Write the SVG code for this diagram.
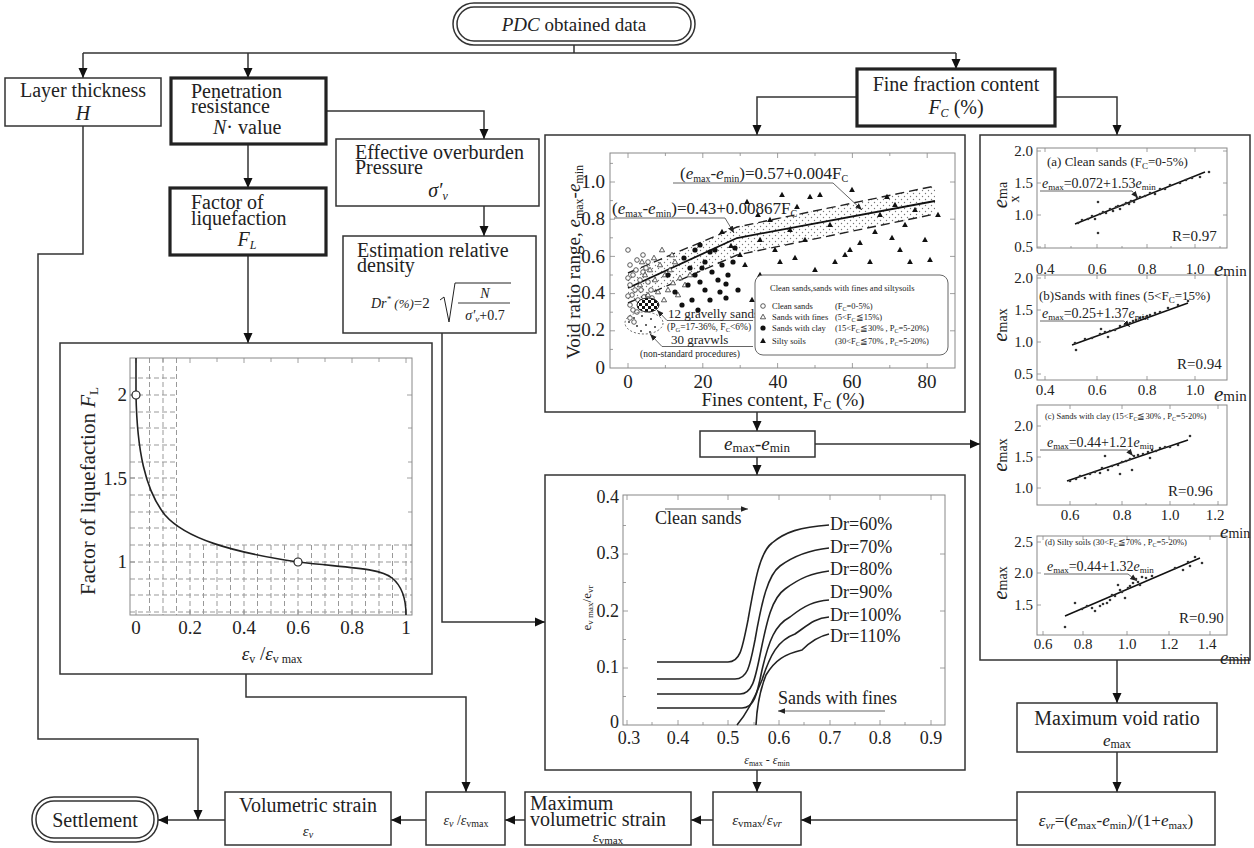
<svg xmlns="http://www.w3.org/2000/svg" width="1254" height="848" viewBox="0 0 1254 848">
<defs>
<style>
.box{fill:#fff;stroke:#333;stroke-width:1.5}
.thick{fill:#fff;stroke:#222;stroke-width:3.2}
.con{fill:none;stroke:#333;stroke-width:1.5}
.t{font-family:"Liberation Serif","Times New Roman",serif;fill:#222}
.frame{fill:none;stroke:#888;stroke-width:1}
.tick{fill:none;stroke:#888;stroke-width:0.8}
.grid{stroke:#999;stroke-width:1;stroke-dasharray:5,3;fill:none}
.curve{fill:none;stroke:#222;stroke-width:1.6}
.lead{fill:none;stroke:#555;stroke-width:0.9}
.dash{fill:none;stroke:#222;stroke-width:1.4;stroke-dasharray:9,5}
</style>
<marker id="ah" viewBox="0 0 10 10" refX="10" refY="5" markerWidth="10" markerHeight="10" markerUnits="userSpaceOnUse" orient="auto"><path d="M0,0.5 L10,5 L0,9.5 z" fill="#111"/></marker>
<marker id="as" viewBox="0 0 10 10" refX="10" refY="5" markerWidth="7" markerHeight="7" markerUnits="userSpaceOnUse" orient="auto"><path d="M0,1 L10,5 L0,9 z" fill="#222"/></marker>
<pattern id="dots" width="6" height="6" patternUnits="userSpaceOnUse"><rect width="6" height="6" fill="#fff"/><circle cx="1.5" cy="1.5" r="0.7" fill="#777"/><circle cx="4.5" cy="4.5" r="0.7" fill="#777"/></pattern>
<pattern id="checker" width="6" height="6" patternUnits="userSpaceOnUse"><rect width="6" height="6" fill="#fff"/><rect width="3" height="3" fill="#111"/><rect x="3" y="3" width="3" height="3" fill="#111"/></pattern>
<circle id="oc" r="2.3" fill="#fff" stroke="#333" stroke-width="0.8"/>
<path id="ot" d="M0,-2.8L2.6,1.8L-2.6,1.8Z" fill="#fff" stroke="#333" stroke-width="0.8"/>
<circle id="fc" r="2.6" fill="#111"/>
<path id="ft" d="M0,-3.2L2.9,2L-2.9,2Z" fill="#111"/>
<circle id="sd" r="1.3" fill="#333"/>
</defs>
<rect width="1254" height="848" fill="#fff"/>

<g id="connectors" class="con">
<path d="M574,45 V53"/>
<path d="M83,53 H956"/>
<path d="M83,53 V78" marker-end="url(#ah)"/>
<path d="M248,53 V78" marker-end="url(#ah)"/>
<path d="M956,53 V69" marker-end="url(#ah)"/>
<path d="M326,111 H484 V139" marker-end="url(#ah)"/>
<path d="M484,206 V236" marker-end="url(#ah)"/>
<path d="M248,144 V188" marker-end="url(#ah)"/>
<path d="M248,255 V343" marker-end="url(#ah)"/>
<path d="M83,126 V254 H38 V739 H198 V820" marker-end="url(#ah)"/>
<path d="M442,333 V622 H545" marker-end="url(#ah)"/>
<path d="M246,674 V697 H466 V792" marker-end="url(#ah)"/>
<path d="M857,97 H757 V135" marker-end="url(#ah)"/>
<path d="M1055,97 H1117 V135" marker-end="url(#ah)"/>
<path d="M757,412 V431" marker-end="url(#ah)"/>
<path d="M815,444 H980" marker-end="url(#ah)"/>
<path d="M757,457 V475" marker-end="url(#ah)"/>
<path d="M757,770 V792" marker-end="url(#ah)"/>
<path d="M1117,660 V703" marker-end="url(#ah)"/>
<path d="M1117,752 V792" marker-end="url(#ah)"/>
<path d="M1017,820 H801" marker-end="url(#ah)"/>
<path d="M713,820 H691" marker-end="url(#ah)"/>
<path d="M525,820 H505" marker-end="url(#ah)"/>
<path d="M426,820 H391" marker-end="url(#ah)"/>
<path d="M225,820 H158" marker-end="url(#ah)"/>
</g>

<g id="pdc">
<rect x="453" y="3" width="242" height="42" rx="21" class="box"/>
<rect x="457" y="7" width="234" height="34" rx="17" class="box"/>
<text x="574" y="31" text-anchor="middle" class="t" font-size="19"><tspan font-style="italic">PDC</tspan> obtained data</text>
</g>

<g id="layer">
<rect x="5" y="78" width="156" height="48" class="box"/>
<text x="83" y="97" text-anchor="middle" class="t" font-size="20">Layer thickness</text>
<text x="83" y="120" text-anchor="middle" class="t" font-size="20" font-style="italic">H</text>
</g>

<g id="penetration">
<rect x="171" y="78" width="155" height="66" class="thick"/>
<text x="191" y="98" class="t" font-size="20">Penetration</text>
<text x="191" y="113" class="t" font-size="20">resistance</text>
<text x="213" y="134" class="t" font-size="20"><tspan font-style="italic">N</tspan>· value</text>
</g>

<g id="fine">
<rect x="857" y="69" width="198" height="57" class="thick"/>
<text x="956" y="91" text-anchor="middle" class="t" font-size="20">Fine fraction content</text>
<text x="956" y="114" text-anchor="middle" class="t" font-size="20"><tspan font-style="italic">F</tspan><tspan font-style="italic" font-size="12" dy="3">C</tspan><tspan dy="-3"> (%)</tspan></text>
</g>

<g id="effective">
<rect x="336" y="139" width="203" height="67" class="box"/>
<text x="355" y="159" class="t" font-size="20">Effective overburden</text>
<text x="355" y="174" class="t" font-size="20">Pressure</text>
<text x="438" y="197" text-anchor="middle" class="t" font-size="20" font-style="italic">σ′<tspan font-size="12" dy="3">v</tspan></text>
</g>

<g id="estimation">
<rect x="343" y="236" width="193" height="97" class="box"/>
<text x="357" y="257" class="t" font-size="20">Estimation relative</text>
<text x="357" y="272" class="t" font-size="20">density</text>
<text x="371" y="308" class="t" font-size="14" font-style="italic">Dr<tspan font-size="9" dy="-6">*</tspan><tspan font-size="13" dy="6"> (%)</tspan><tspan font-style="normal" font-size="15">=2</tspan></text>
<path d="M440,300 L444,297 L449,322 L455,283 L511,283" fill="none" stroke="#222" stroke-width="1"/>
<path d="M458,303 H510" stroke="#222" stroke-width="0.9"/>
<text x="485" y="298" text-anchor="middle" class="t" font-size="14" font-style="italic">N</text>
<text x="485" y="320" text-anchor="middle" class="t" font-size="14"><tspan font-style="italic">σ′</tspan><tspan font-style="italic" font-size="9" dy="2">v</tspan><tspan dy="-2">+0.7</tspan></text>
</g>

<g id="factor">
<rect x="170" y="188" width="156" height="67" class="thick"/>
<text x="191" y="209" class="t" font-size="20">Factor of</text>
<text x="191" y="225" class="t" font-size="20">liquefaction</text>
<text x="247" y="246" text-anchor="middle" class="t" font-size="20" font-style="italic">F<tspan font-size="12" dy="3">L</tspan></text>
</g>

<g id="fl-chart">
<rect x="60" y="343" width="372" height="331" class="box"/>
<g class="grid">
<path d="M149.5,358V615M163,358V615M176.5,358V615"/>
<path d="M130,378H176.5M130,395H176.5M130,412H176.5M130,428H176.5M130,445H176.5M130,462H176.5M130,478H176.5M130,495H176.5M130,512H176.5M130,528H176.5"/>
<path d="M130,545H412M130,562H412M130,579H412M130,595H412M130,612H412"/>
<path d="M190,545V615M203.5,545V615M217,545V615M230.5,545V615M244,545V615M257.5,545V615M271,545V615M284.5,545V615M298,545V615M311.5,545V615M325,545V615M338.5,545V615M352,545V615M365.5,545V615M379,545V615M392.5,545V615M406,545V615"/>
</g>
<rect x="130" y="358" width="282" height="257" class="frame"/>
<path class="tick" d="M136,358v5M163,358v4M190,358v5M217,358v4M244,358v5M271,358v4M298,358v5M325,358v4M352,358v5M379,358v4M406,358v5M136,615v-5M190,615v-5M244,615v-5M298,615v-5M352,615v-5M406,615v-5M412,395h-5M412,428h-4M412,462h-4M412,478h-5M412,512h-4M412,545h-4M130,395h5M130,478h5M130,562h5"/>
<path class="curve" d="M136,358 L136,395 C137,450 145,490 165,515 C185,538 230,552 298,562 C350,568 380,568 392,578 C402,586 406,600 406,615"/>
<circle cx="136" cy="395" r="4" fill="#fff" stroke="#222" stroke-width="1.2"/>
<circle cx="298" cy="562" r="4" fill="#fff" stroke="#222" stroke-width="1.2"/>
<g class="t" font-size="19" text-anchor="end">
<text x="127" y="401">2</text>
<text x="127" y="485">1.5</text>
<text x="127" y="568">1</text>
</g>
<g class="t" font-size="19" text-anchor="middle">
<text x="136" y="634">0</text>
<text x="190" y="634">0.2</text>
<text x="244" y="634">0.4</text>
<text x="298" y="634">0.6</text>
<text x="352" y="634">0.8</text>
<text x="406" y="634">1</text>
</g>
<text x="272" y="660" text-anchor="middle" class="t" font-size="19"><tspan font-style="italic">ε</tspan><tspan font-size="12" dy="3">v</tspan><tspan dy="-3"> /</tspan><tspan font-style="italic">ε</tspan><tspan font-size="12" dy="3">v max</tspan></text>
<text transform="translate(95,491) rotate(-90)" text-anchor="middle" class="t" font-size="21">Factor of liquefaction  <tspan font-style="italic">F</tspan><tspan font-size="13" dy="3">L</tspan></text>
</g>

<g id="void-range-chart">
<rect x="545" y="135" width="420" height="277" class="box"/>
<rect x="610" y="153" width="345" height="215" class="frame"/>
<path class="tick" d="M628,368v-5M665.4,368v-3M702.8,368v-5M740.2,368v-3M777.6,368v-5M815,368v-3M852.4,368v-5M889.8,368v-3M927.2,368v-5M628,153v5M702.8,153v5M777.6,153v5M852.4,153v5M927.2,153v5M665.4,153v3M740.2,153v3M815,153v3M889.8,153v3M610,349.4h3M610,330.8h5M610,312.2h3M610,293.6h5M610,275h3M610,256.4h5M610,237.8h3M610,219.2h5M610,200.6h3M610,182h5M610,163.4h3M955,330.8h-5M955,293.6h-5M955,256.4h-5M955,219.2h-5M955,182h-5"/>
<polygon points="628,273 737,227 935,186 935,214 737,255 628,303" fill="url(#dots)"/>
<polyline class="dash" points="628,273 737,227 935,186"/>
<polyline class="dash" points="628,303 737,255 935,214"/>
<polyline fill="none" stroke="#111" stroke-width="1.8" points="628,288 737,238 935,201"/>
<g>
<use href="#oc" x="630" y="265"/><use href="#oc" x="633" y="275"/><use href="#oc" x="636" y="270"/><use href="#oc" x="640" y="280"/><use href="#oc" x="643" y="272"/><use href="#oc" x="646" y="268"/><use href="#oc" x="630" y="285"/><use href="#oc" x="632" y="295"/><use href="#oc" x="635" y="290"/><use href="#oc" x="638" y="300"/><use href="#oc" x="641" y="290"/><use href="#oc" x="644" y="297"/><use href="#oc" x="630" y="305"/><use href="#oc" x="633" y="310"/><use href="#oc" x="637" y="312"/><use href="#oc" x="640" y="307"/><use href="#oc" x="630" y="318"/><use href="#oc" x="634" y="322"/><use href="#oc" x="628" y="250"/><use href="#oc" x="648" y="282"/><use href="#oc" x="651" y="290"/><use href="#oc" x="652" y="298"/><use href="#oc" x="637" y="260"/><use href="#oc" x="643" y="255"/><use href="#oc" x="648" y="262"/><use href="#oc" x="628" y="278"/><use href="#oc" x="628" y="296"/>
<use href="#ot" x="640" y="285"/><use href="#ot" x="645" y="275"/><use href="#ot" x="650" y="270"/><use href="#ot" x="655" y="280"/><use href="#ot" x="660" y="265"/><use href="#ot" x="665" y="275"/><use href="#ot" x="670" y="270"/><use href="#ot" x="675" y="262"/><use href="#ot" x="680" y="278"/><use href="#ot" x="648" y="295"/><use href="#ot" x="658" y="292"/><use href="#ot" x="668" y="290"/><use href="#ot" x="678" y="295"/><use href="#ot" x="662" y="250"/><use href="#ot" x="672" y="255"/><use href="#ot" x="654" y="258"/><use href="#ot" x="642" y="262"/><use href="#ot" x="685" y="285"/><use href="#ot" x="690" y="275"/><use href="#ot" x="664" y="300"/><use href="#ot" x="673" y="283"/>
<use href="#fc" x="684" y="258"/><use href="#fc" x="690" y="268"/><use href="#fc" x="695" y="275"/><use href="#fc" x="700" y="282"/><use href="#fc" x="705" y="262"/><use href="#fc" x="712" y="272"/><use href="#fc" x="718" y="280"/><use href="#fc" x="722" y="265"/><use href="#fc" x="728" y="275"/><use href="#fc" x="733" y="262"/><use href="#fc" x="738" y="290"/><use href="#fc" x="705" y="290"/><use href="#fc" x="688" y="285"/><use href="#fc" x="695" y="250"/><use href="#fc" x="700" y="245"/><use href="#fc" x="715" y="250"/><use href="#fc" x="720" y="292"/><use href="#fc" x="710" y="300"/><use href="#fc" x="692" y="300"/><use href="#fc" x="726" y="298"/><use href="#fc" x="682" y="305"/><use href="#fc" x="698" y="310"/><use href="#fc" x="735" y="248"/><use href="#fc" x="668" y="275"/><use href="#fc" x="675" y="292"/><use href="#fc" x="710" y="252"/><use href="#fc" x="702" y="268"/><use href="#fc" x="726" y="284"/>
<use href="#ft" x="747" y="202"/><use href="#ft" x="758" y="215"/><use href="#ft" x="782" y="195"/><use href="#ft" x="797" y="207"/><use href="#ft" x="810" y="197"/><use href="#ft" x="820" y="195"/><use href="#ft" x="852" y="190"/><use href="#ft" x="887" y="197"/><use href="#ft" x="760" y="240"/><use href="#ft" x="775" y="250"/><use href="#ft" x="790" y="230"/><use href="#ft" x="805" y="240"/><use href="#ft" x="830" y="225"/><use href="#ft" x="845" y="255"/><use href="#ft" x="860" y="243"/><use href="#ft" x="875" y="232"/><use href="#ft" x="892" y="238"/><use href="#ft" x="905" y="225"/><use href="#ft" x="915" y="210"/><use href="#ft" x="925" y="240"/><use href="#ft" x="745" y="265"/><use href="#ft" x="760" y="275"/><use href="#ft" x="780" y="262"/><use href="#ft" x="795" y="258"/><use href="#ft" x="815" y="270"/><use href="#ft" x="835" y="262"/><use href="#ft" x="850" y="250"/><use href="#ft" x="870" y="262"/><use href="#ft" x="900" y="250"/><use href="#ft" x="910" y="262"/><use href="#ft" x="765" y="290"/><use href="#ft" x="752" y="300"/><use href="#ft" x="790" y="285"/><use href="#ft" x="810" y="280"/><use href="#ft" x="930" y="260"/><use href="#ft" x="740" y="255"/><use href="#ft" x="770" y="220"/><use href="#ft" x="880" y="215"/><use href="#ft" x="895" y="205"/><use href="#ft" x="938" y="215"/><use href="#ft" x="722" y="232"/><use href="#ft" x="731" y="246"/>
</g>
<ellipse cx="648" cy="305" rx="11" ry="7" fill="url(#checker)" stroke="#222" stroke-width="1"/>
<ellipse cx="644" cy="323" rx="19" ry="11" fill="none" stroke="#555" stroke-width="0.9" stroke-dasharray="2,2"/>
<g fill="#333"><circle cx="634" cy="318" r="1"/><circle cx="642" cy="316" r="1"/><circle cx="651" cy="319" r="1"/><circle cx="637" cy="326" r="1"/><circle cx="646" cy="325" r="1"/><circle cx="655" cy="327" r="1"/><circle cx="641" cy="331" r="1"/><circle cx="650" cy="332" r="1"/><circle cx="629" cy="322" r="1"/></g>
<path class="lead" d="M753,320.5 H667 L657,310" marker-end="url(#as)"/>
<path class="lead" d="M753,346.5 H662 L650,334" marker-end="url(#as)"/>
<text x="668" y="318" class="t" font-size="13">12 gravelly sands</text>
<text x="667" y="330" class="t" font-size="9.5">(P<tspan font-size="6.5" dy="2">G</tspan><tspan dy="-2">=17-36%, F</tspan><tspan font-size="6.5" dy="2">C</tspan><tspan dy="-2">&lt;6%)</tspan></text>
<text x="671" y="344" class="t" font-size="13">30 gravwls</text>
<text x="640" y="357" class="t" font-size="9.5">(non-standard procedures)</text>
<path class="lead" d="M673,183 H833 L862,210" marker-end="url(#as)"/>
<text x="680" y="179" class="t" font-size="17">(<tspan font-style="italic">e</tspan><tspan font-size="10" dy="3">max</tspan><tspan dy="-3">-</tspan><tspan font-style="italic">e</tspan><tspan font-size="10" dy="3">min</tspan><tspan dy="-3">)=0.57+0.004F</tspan><tspan font-size="10" dy="3">C</tspan></text>
<path class="lead" d="M614,218 H725 L734,233" marker-end="url(#as)"/>
<text x="612" y="214" class="t" font-size="17">(<tspan font-style="italic">e</tspan><tspan font-size="10" dy="3">max</tspan><tspan dy="-3">-</tspan><tspan font-style="italic">e</tspan><tspan font-size="10" dy="3">min</tspan><tspan dy="-3">)=0.43+0.00867F</tspan><tspan font-size="10" dy="3">C</tspan></text>
<rect x="755" y="275" width="193" height="80" rx="8" fill="#fff" stroke="#666" stroke-width="1"/>
<text x="770" y="291" class="t" font-size="8.5">Clean sands,sands with fines and siltysoils</text>
<use href="#oc" x="763" y="306"/><use href="#ot" x="763" y="317"/><use href="#fc" x="763" y="328"/><use href="#ft" x="763" y="341"/>
<g class="t" font-size="8.5">
<text x="772" y="309">Clean sands</text>
<text x="772" y="320">Sands with fines</text>
<text x="772" y="331">Sands with clay</text>
<text x="772" y="344">Silty soils</text>
<text x="835" y="309">(F<tspan font-size="6" dy="2">C</tspan><tspan dy="-2">=0-5%)</tspan></text>
<text x="835" y="320">(5&lt;F<tspan font-size="6" dy="2">C</tspan><tspan dy="-2">≦15%)</tspan></text>
<text x="835" y="331">(15&lt;F<tspan font-size="6" dy="2">C</tspan><tspan dy="-2">≦30% , P</tspan><tspan font-size="6" dy="2">C</tspan><tspan dy="-2">=5-20%)</tspan></text>
<text x="835" y="344">(30&lt;F<tspan font-size="6" dy="2">C</tspan><tspan dy="-2">≦70% , P</tspan><tspan font-size="6" dy="2">C</tspan><tspan dy="-2">=5-20%)</tspan></text>
</g>
<g class="t" font-size="19" text-anchor="end">
<text x="605" y="188">1.0</text>
<text x="605" y="225">0.8</text>
<text x="605" y="263">0.6</text>
<text x="605" y="299">0.4</text>
<text x="605" y="336">0.2</text>
<text x="605" y="374">0</text>
</g>
<g class="t" font-size="19" text-anchor="middle">
<text x="628" y="388">0</text>
<text x="703" y="388">20</text>
<text x="778" y="388">40</text>
<text x="852" y="388">60</text>
<text x="927" y="388">80</text>
</g>
<text x="783" y="406" text-anchor="middle" class="t" font-size="19">Fines content, F<tspan font-size="12" dy="3">C</tspan><tspan dy="-3"> (%)</tspan></text>
<text transform="translate(580,262) rotate(-90)" text-anchor="middle" class="t" font-size="19">Void ratio range, <tspan font-style="italic">e</tspan><tspan font-size="12" dy="3">max</tspan><tspan dy="-3">-</tspan><tspan font-style="italic">e</tspan><tspan font-size="12" dy="3">min</tspan></text>
</g>

<g id="emax-emin">
<rect x="700" y="431" width="115" height="26" class="box"/>
<text x="757" y="450" text-anchor="middle" class="t" font-size="19"><tspan font-style="italic">e</tspan><tspan font-size="13" dy="2">max</tspan><tspan dy="-2">-</tspan><tspan font-style="italic">e</tspan><tspan font-size="13" dy="2">min</tspan></text>
</g>

<g id="strain-ratio-chart">
<rect x="545" y="475" width="420" height="295" class="box"/>
<rect x="623" y="495" width="322" height="230" class="frame"/>
<path class="tick" d="M627,725v-5M652,725v-3M678,725v-5M703,725v-3M728,725v-5M754,725v-3M779,725v-5M804,725v-3M830,725v-5M855,725v-3M880,725v-5M905,725v-3M931,725v-5M627,495v5M678,495v5M728,495v5M779,495v5M830,495v5M880,495v5M931,495v5M623,696.5h3M623,668h5M623,639.5h3M623,611h5M623,582.5h3M623,554h5M623,525.5h3M945,668h-5M945,611h-5M945,554h-5"/>
<g class="curve">
<path d="M657,662 L728,662 C740,662 742,650 748,620 C755,580 760,552 772,543 C785,532 800,527 829,525"/>
<path d="M657,679 L735,679 C748,679 750,665 755,640 C762,600 768,575 780,566 C795,555 810,550 829,548"/>
<path d="M657,694 L740,694 C752,694 755,680 760,655 C767,620 772,598 785,589 C800,578 812,573 829,571"/>
<path d="M657,708 L742,708 C754,708 757,695 762,670 C769,640 775,625 790,617 C805,605 815,601 829,600"/>
<path d="M737,725 C748,712 756,695 762,680 C770,655 778,640 795,634 C808,625 815,618 829,617"/>
<path d="M756,725 C757,705 760,690 766,675 C775,660 785,654 802,650 C812,640 820,636 829,634"/>
</g>
<g class="t" font-size="18">
<text x="830" y="530">Dr=60%</text>
<text x="830" y="553">Dr=70%</text>
<text x="830" y="575">Dr=80%</text>
<text x="830" y="598">Dr=90%</text>
<text x="830" y="621">Dr=100%</text>
<text x="830" y="642">Dr=110%</text>
<text x="655" y="524">Clean sands</text>
<text x="778" y="704">Sands with fines</text>
</g>
<path class="lead" d="M665,509 H748" marker-end="url(#as)"/>
<path class="lead" d="M885,711 H778" marker-end="url(#as)"/>
<g class="t" font-size="18" text-anchor="end">
<text x="619" y="503">0.4</text>
<text x="619" y="559">0.3</text>
<text x="619" y="617">0.2</text>
<text x="619" y="673">0.1</text>
<text x="619" y="728">0</text>
</g>
<g class="t" font-size="18" text-anchor="middle">
<text x="629" y="744">0.3</text>
<text x="678" y="744">0.4</text>
<text x="728" y="744">0.5</text>
<text x="779" y="744">0.6</text>
<text x="830" y="744">0.7</text>
<text x="880" y="744">0.8</text>
<text x="931" y="744">0.9</text>
</g>
<text x="767" y="764" text-anchor="middle" class="t" font-size="12"><tspan font-style="italic">ε</tspan><tspan font-size="8" dy="2">max</tspan><tspan dy="-2"> - </tspan><tspan font-style="italic">ε</tspan><tspan font-size="8" dy="2">min</tspan></text>
<text transform="translate(591,608) rotate(-90)" text-anchor="middle" class="t" font-size="13">e<tspan font-size="9" dy="2">v max</tspan><tspan dy="-2">/e</tspan><tspan font-size="9" dy="2">vr</tspan></text>
</g>

<g id="emax-emin-plots">
<rect x="980" y="135" width="270" height="525" class="box"/>
<g class="frame">
<rect x="1037" y="148" width="190" height="100"/>
<rect x="1037" y="275" width="190" height="105"/>
<rect x="1037" y="405" width="190" height="100"/>
<rect x="1037" y="536" width="190" height="99"/>
</g>
<path class="tick" d="M1045,248v-4M1071,248v-2M1097,248v-4M1122,248v-2M1147,248v-4M1171,248v-2M1195,248v-4M1220,248v-2M1045,148v4M1097,148v4M1147,148v4M1195,148v4M1037,151h4M1037,183h4M1037,215h4M1037,247h4M1227,151h-4M1227,183h-4M1227,215h-4M1045,380v-4M1097,380v-4M1147,380v-4M1195,380v-4M1045,275v4M1097,275v4M1147,275v4M1195,275v4M1037,278h4M1037,310h4M1037,342h4M1037,374h4M1070,505v-4M1122,505v-4M1170,505v-4M1218,505v-4M1096,505v-2M1146,505v-2M1194,505v-2M1070,405v4M1122,405v4M1170,405v4M1218,405v4M1037,426h4M1037,457h4M1037,488h4M1043,635v-4M1083,635v-4M1127,635v-4M1169,635v-4M1210,635v-4M1043,536v4M1083,536v4M1127,536v4M1169,536v4M1210,536v4M1037,542h4M1037,573h4M1037,605h4"/>
<g class="t" font-size="15" text-anchor="end">
<text x="1033" y="156">2.0</text><text x="1033" y="188">1.5</text><text x="1033" y="220">1.0</text><text x="1033" y="252">0.5</text>
<text x="1033" y="283">2.0</text><text x="1033" y="315">1.5</text><text x="1033" y="347">1.0</text><text x="1033" y="379">0.5</text>
<text x="1033" y="431">2.0</text><text x="1033" y="462">1.5</text><text x="1033" y="493">1.0</text>
<text x="1033" y="547">2.5</text><text x="1033" y="578">2.0</text><text x="1033" y="610">1.5</text>
</g>
<g class="t" font-size="15" text-anchor="middle">
<text x="1045" y="274">0.4</text><text x="1097" y="274">0.6</text><text x="1147" y="274">0.8</text><text x="1195" y="274">1.0</text>
<text x="1045" y="395">0.4</text><text x="1097" y="395">0.6</text><text x="1147" y="395">0.8</text><text x="1195" y="395">1.0</text>
<text x="1070" y="520">0.6</text><text x="1122" y="520">0.8</text><text x="1170" y="520">1.0</text><text x="1215" y="520">1.2</text>
<text x="1043" y="649">0.6</text><text x="1083" y="649">0.8</text><text x="1127" y="649">1.0</text><text x="1169" y="649">1.2</text><text x="1207" y="649">1.4</text>
</g>
<g class="t">
<text x="1214" y="276"><tspan font-style="italic" font-size="21">e</tspan><tspan font-size="15">min</tspan></text>
<text x="1214" y="401"><tspan font-style="italic" font-size="21">e</tspan><tspan font-size="15">min</tspan></text>
<text x="1220" y="538"><tspan font-style="italic" font-size="19">e</tspan><tspan font-size="14">min</tspan></text>
<text x="1220" y="664"><tspan font-style="italic" font-size="19">e</tspan><tspan font-size="14">min</tspan></text>
<text transform="translate(1007,195) rotate(-90)" text-anchor="middle"><tspan font-style="italic" font-size="21">e</tspan><tspan font-size="14">ma</tspan></text>
<text transform="translate(1019,199) rotate(-90)" text-anchor="middle" font-size="14">x</text>
<text transform="translate(1007,325) rotate(-90)" text-anchor="middle"><tspan font-style="italic" font-size="21">e</tspan><tspan font-size="14">max</tspan></text>
<text transform="translate(1007,455) rotate(-90)" text-anchor="middle"><tspan font-style="italic" font-size="21">e</tspan><tspan font-size="14">max</tspan></text>
<text transform="translate(1007,583) rotate(-90)" text-anchor="middle"><tspan font-style="italic" font-size="21">e</tspan><tspan font-size="14">max</tspan></text>
</g>
<g class="t" font-size="13">
<text x="1047" y="166">(a)  Clean sands (F<tspan font-size="9" dy="3">C</tspan><tspan dy="-3">=0-5%)</tspan></text>
<text x="1039" y="300">(b)Sands with fines (5&lt;F<tspan font-size="9" dy="3">C</tspan><tspan dy="-3">=15%)</tspan></text>
</g>
<g class="t" font-size="8.5">
<text x="1045" y="419">(c) Sands with clay  (15&lt;F<tspan font-size="6" dy="2">C</tspan><tspan dy="-2">≦30% , P</tspan><tspan font-size="6" dy="2">C</tspan><tspan dy="-2">=5-20%)</tspan></text>
<text x="1045" y="545">(d)  Silty soils (30&lt;F<tspan font-size="6" dy="2">C</tspan><tspan dy="-2">≦70% , P</tspan><tspan font-size="6" dy="2">C</tspan><tspan dy="-2">=5-20%)</tspan></text>
</g>
<g class="t" font-size="14">
<text x="1042" y="188"><tspan font-style="italic">e</tspan><tspan font-size="9" dy="2">max</tspan><tspan dy="-2">=0.072+1.53</tspan><tspan font-style="italic">e</tspan><tspan font-size="9" dy="2">min</tspan></text>
<text x="1042" y="318"><tspan font-style="italic">e</tspan><tspan font-size="9" dy="2">max</tspan><tspan dy="-2">=0.25+1.37</tspan><tspan font-style="italic">e</tspan><tspan font-size="9" dy="2">min</tspan></text>
<text x="1047" y="447"><tspan font-style="italic">e</tspan><tspan font-size="9" dy="2">max</tspan><tspan dy="-2">=0.44+1.21</tspan><tspan font-style="italic">e</tspan><tspan font-size="9" dy="2">min</tspan></text>
<text x="1047" y="571"><tspan font-style="italic">e</tspan><tspan font-size="9" dy="2">max</tspan><tspan dy="-2">=0.44+1.32</tspan><tspan font-style="italic">e</tspan><tspan font-size="9" dy="2">min</tspan></text>
</g>
<g class="t" font-size="15">
<text x="1172" y="241">R=0.97</text>
<text x="1177" y="369">R=0.94</text>
<text x="1168" y="496">R=0.96</text>
<text x="1179" y="623">R=0.90</text>
</g>
<path class="lead" d="M1040,191 H1132 L1138,198" marker-end="url(#as)"/>
<path class="lead" d="M1040,321 H1124 L1130,327" marker-end="url(#as)"/>
<path class="lead" d="M1040,450 H1128 L1133,456" marker-end="url(#as)"/>
<path class="lead" d="M1044,574 H1128 L1137,581" marker-end="url(#as)"/>
<g stroke="#111" stroke-width="1.5">
<path d="M1075,224 L1205,172"/>
<path d="M1072,345 L1188,303"/>
<path d="M1067,481 L1188,440"/>
<path d="M1065,616 L1200,558"/>
</g>
<g>
<use href="#sd" x="1078" y="223"/><use href="#sd" x="1082" y="220"/><use href="#sd" x="1088" y="219"/><use href="#sd" x="1092" y="216"/><use href="#sd" x="1095" y="219"/><use href="#sd" x="1100" y="214"/><use href="#sd" x="1103" y="212"/><use href="#sd" x="1106" y="213"/><use href="#sd" x="1110" y="209"/><use href="#sd" x="1113" y="211"/><use href="#sd" x="1116" y="207"/><use href="#sd" x="1118" y="206"/><use href="#sd" x="1120" y="209"/><use href="#sd" x="1123" y="205"/><use href="#sd" x="1126" y="203"/><use href="#sd" x="1129" y="204"/><use href="#sd" x="1131" y="201"/><use href="#sd" x="1134" y="202"/><use href="#sd" x="1137" y="198"/><use href="#sd" x="1140" y="197"/><use href="#sd" x="1145" y="196"/><use href="#sd" x="1150" y="193"/><use href="#sd" x="1155" y="194"/><use href="#sd" x="1160" y="189"/><use href="#sd" x="1165" y="189"/><use href="#sd" x="1170" y="185"/><use href="#sd" x="1180" y="183"/><use href="#sd" x="1186" y="180"/><use href="#sd" x="1192" y="178"/><use href="#sd" x="1200" y="177"/><use href="#sd" x="1209" y="172"/><use href="#sd" x="1098" y="202"/><use href="#sd" x="1098" y="233"/>
<use href="#sd" x="1075" y="343"/><use href="#sd" x="1085" y="339"/><use href="#sd" x="1092" y="338"/><use href="#sd" x="1100" y="334"/><use href="#sd" x="1105" y="332"/><use href="#sd" x="1110" y="331"/><use href="#sd" x="1115" y="330"/><use href="#sd" x="1120" y="326"/><use href="#sd" x="1125" y="325"/><use href="#sd" x="1130" y="323"/><use href="#sd" x="1133" y="321"/><use href="#sd" x="1136" y="320"/><use href="#sd" x="1140" y="318"/><use href="#sd" x="1143" y="317"/><use href="#sd" x="1147" y="316"/><use href="#sd" x="1150" y="315"/><use href="#sd" x="1155" y="313"/><use href="#sd" x="1160" y="312"/><use href="#sd" x="1168" y="308"/><use href="#sd" x="1178" y="305"/><use href="#sd" x="1188" y="301"/><use href="#sd" x="1076" y="350"/><use href="#sd" x="1101" y="329"/><use href="#sd" x="1108" y="337"/>
<use href="#sd" x="1070" y="481"/><use href="#sd" x="1076" y="479"/><use href="#sd" x="1080" y="476"/><use href="#sd" x="1085" y="478"/><use href="#sd" x="1090" y="474"/><use href="#sd" x="1095" y="472"/><use href="#sd" x="1100" y="473"/><use href="#sd" x="1102" y="468"/><use href="#sd" x="1108" y="470"/><use href="#sd" x="1112" y="466"/><use href="#sd" x="1118" y="465"/><use href="#sd" x="1122" y="462"/><use href="#sd" x="1126" y="461"/><use href="#sd" x="1130" y="459"/><use href="#sd" x="1134" y="456"/><use href="#sd" x="1138" y="455"/><use href="#sd" x="1143" y="454"/><use href="#sd" x="1148" y="452"/><use href="#sd" x="1152" y="450"/><use href="#sd" x="1156" y="451"/><use href="#sd" x="1160" y="448"/><use href="#sd" x="1165" y="447"/><use href="#sd" x="1170" y="447"/><use href="#sd" x="1178" y="445"/><use href="#sd" x="1190" y="436"/><use href="#sd" x="1105" y="456"/><use href="#sd" x="1120" y="474"/><use href="#sd" x="1150" y="458"/><use href="#sd" x="1132" y="470"/>
<use href="#sd" x="1065" y="627"/><use href="#sd" x="1075" y="603"/><use href="#sd" x="1082" y="609"/><use href="#sd" x="1087" y="606"/><use href="#sd" x="1092" y="608"/><use href="#sd" x="1095" y="611"/><use href="#sd" x="1100" y="606"/><use href="#sd" x="1103" y="604"/><use href="#sd" x="1107" y="603"/><use href="#sd" x="1110" y="600"/><use href="#sd" x="1112" y="595"/><use href="#sd" x="1115" y="596"/><use href="#sd" x="1118" y="585"/><use href="#sd" x="1120" y="590"/><use href="#sd" x="1122" y="592"/><use href="#sd" x="1125" y="598"/><use href="#sd" x="1128" y="588"/><use href="#sd" x="1130" y="586"/><use href="#sd" x="1133" y="583"/><use href="#sd" x="1136" y="579"/><use href="#sd" x="1138" y="582"/><use href="#sd" x="1140" y="585"/><use href="#sd" x="1142" y="577"/><use href="#sd" x="1146" y="578"/><use href="#sd" x="1152" y="576"/><use href="#sd" x="1175" y="568"/><use href="#sd" x="1183" y="570"/><use href="#sd" x="1190" y="566"/><use href="#sd" x="1188" y="562"/><use href="#sd" x="1195" y="557"/><use href="#sd" x="1202" y="563"/>
</g>
</g>

<g id="max-void">
<rect x="1017" y="703" width="200" height="49" class="box"/>
<text x="1117" y="725" text-anchor="middle" class="t" font-size="20">Maximum void ratio</text>
<text x="1117" y="746" text-anchor="middle" class="t" font-size="17"><tspan font-style="italic">e</tspan><tspan font-size="12" dy="2">max</tspan></text>
</g>

<g id="evr">
<rect x="1017" y="792" width="198" height="53" class="box"/>
<text x="1116" y="826" text-anchor="middle" class="t" font-size="17"><tspan font-style="italic">ε</tspan><tspan font-style="italic" font-size="11" dy="3">vr</tspan><tspan dy="-3">=(</tspan><tspan font-style="italic">e</tspan><tspan font-size="11" dy="3">max</tspan><tspan dy="-3">-</tspan><tspan font-style="italic">e</tspan><tspan font-size="11" dy="3">min</tspan><tspan dy="-3">)/(1+</tspan><tspan font-style="italic">e</tspan><tspan font-size="11" dy="3">max</tspan><tspan dy="-3">)</tspan></text>
</g>

<g id="evmax-evr">
<rect x="713" y="792" width="88" height="53" class="box"/>
<text x="757" y="825" text-anchor="middle" class="t" font-size="15"><tspan font-style="italic">ε</tspan><tspan font-size="11" dy="2">vmax</tspan><tspan dy="-2">/</tspan><tspan font-style="italic">ε</tspan><tspan font-style="italic" font-size="11" dy="2">vr</tspan></text>
</g>

<g id="max-vol-strain">
<rect x="525" y="792" width="166" height="53" class="box"/>
<text x="530" y="810" class="t" font-size="20">Maximum</text>
<text x="530" y="826" class="t" font-size="20">volumetric strain</text>
<text x="608" y="842" text-anchor="middle" class="t" font-size="15"><tspan font-style="italic">ε</tspan><tspan font-size="11" dy="2">vmax</tspan></text>
</g>

<g id="ev-evmax">
<rect x="426" y="792" width="79" height="53" class="box"/>
<text x="466" y="825" text-anchor="middle" class="t" font-size="14"><tspan font-style="italic">ε</tspan><tspan font-style="italic" font-size="10" dy="2">v</tspan><tspan dy="-2"> /</tspan><tspan font-style="italic">ε</tspan><tspan font-size="10" dy="2">vmax</tspan></text>
</g>

<g id="vol-strain">
<rect x="225" y="792" width="166" height="53" class="box"/>
<text x="308" y="812" text-anchor="middle" class="t" font-size="20">Volumetric strain</text>
<text x="308" y="836" text-anchor="middle" class="t" font-size="15" font-style="italic">ε<tspan font-size="10" dy="2">v</tspan></text>
</g>

<g id="settlement">
<rect x="32" y="797" width="126" height="45" rx="22" class="box"/>
<rect x="36" y="801" width="118" height="37" rx="18" class="box"/>
<text x="95" y="827" text-anchor="middle" class="t" font-size="20">Settlement</text>
</g>
</svg>
